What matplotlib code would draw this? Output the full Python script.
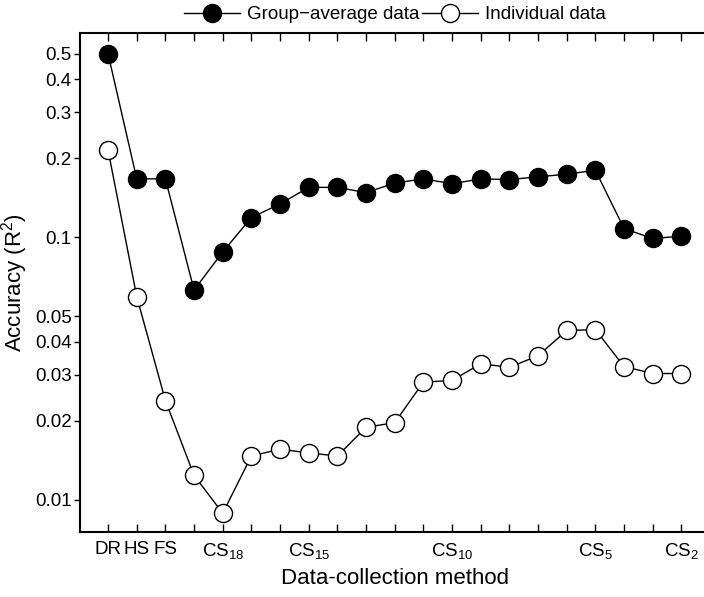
import matplotlib
matplotlib.use('Agg')
import matplotlib.pyplot as plt
import matplotlib.ticker as ticker

plt.rcParams['font.family'] = ['Liberation Sans', 'DejaVu Sans']
plt.rcParams['mathtext.default'] = 'regular'

# categories: DR, HS, FS, then CS19 ... CS2
methods = ['DR', 'HS', 'FS'] + ['CS%d' % k for k in range(19, 1, -1)]
group_avg = [0.50, 0.167, 0.167, 0.063, 0.088, 0.119, 0.134, 0.155, 0.155,
             0.148, 0.161, 0.167, 0.160, 0.167, 0.166, 0.170, 0.174, 0.180,
             0.108, 0.099, 0.101]
individual = [0.215, 0.0595, 0.0239, 0.0124, 0.0089, 0.0147, 0.0156, 0.0151,
              0.0147, 0.0189, 0.0197, 0.0281, 0.0285, 0.033, 0.032, 0.0354,
              0.0442, 0.0445, 0.0322, 0.0303, 0.0303]
labelled = ['DR', 'HS', 'FS', 'CS18', 'CS15', 'CS10', 'CS5', 'CS2']
y_ticks = [0.01, 0.02, 0.03, 0.04, 0.05, 0.1, 0.2, 0.3, 0.4, 0.5]


def tick_text(name):
    if name.startswith('CS'):
        return r'CS$_{%s}$' % name[2:]
    return name


fig = plt.figure(figsize=(7.04, 5.97), dpi=100)
ax = fig.add_axes([0.1136, 0.1089, 0.895, 0.8358])

x = list(range(len(methods)))
ax.plot(x, group_avg, '-o', color='black', lw=1.0, ms=13,
        mfc='black', mec='black', label='Group\u2212average data')
ax.plot(x, individual, '-o', color='black', lw=1.0, ms=13,
        mfc='white', mec='black', mew=1.0, label='Individual data')

ax.set_yscale('log')
ax.set_ylim(0.00755, 0.60)
ax.set_xlim(-0.98, 21)

ax.yaxis.set_major_locator(ticker.FixedLocator(y_ticks))
ax.yaxis.set_major_formatter(ticker.FixedFormatter([str(v) for v in y_ticks]))
ax.yaxis.set_minor_locator(ticker.NullLocator())

ax.set_xticks(x)
ax.set_xticklabels([tick_text(m) if m in labelled else '' for m in methods])

ax.tick_params(axis='x', direction='in', top=True, length=6, width=1,
               labelsize=13.5, pad=6.5)
ax.tick_params(axis='y', which='major', direction='out', length=4.5, width=1,
               labelsize=13.5, pad=1.5)
ax.tick_params(axis='y', right=True)

for side in ['left', 'bottom', 'top', 'right']:
    ax.spines[side].set_linewidth(1.5)

ax.set_xlabel('Data-collection method', fontsize=16)
ax.set_ylabel('Accuracy (R$^2$)', fontsize=16)
ax.xaxis.set_label_coords(0.5, -0.072)
ax.yaxis.set_label_coords(-0.08, 0.5)

fig.legend(loc='center', bbox_to_anchor=(0.561, 0.975), ncol=2, frameon=False,
           fontsize=13.5, handlelength=3.0, handletextpad=0.35,
           columnspacing=0.15, borderaxespad=0)

fig.savefig('out.png', dpi=100)
plt.close(fig)
